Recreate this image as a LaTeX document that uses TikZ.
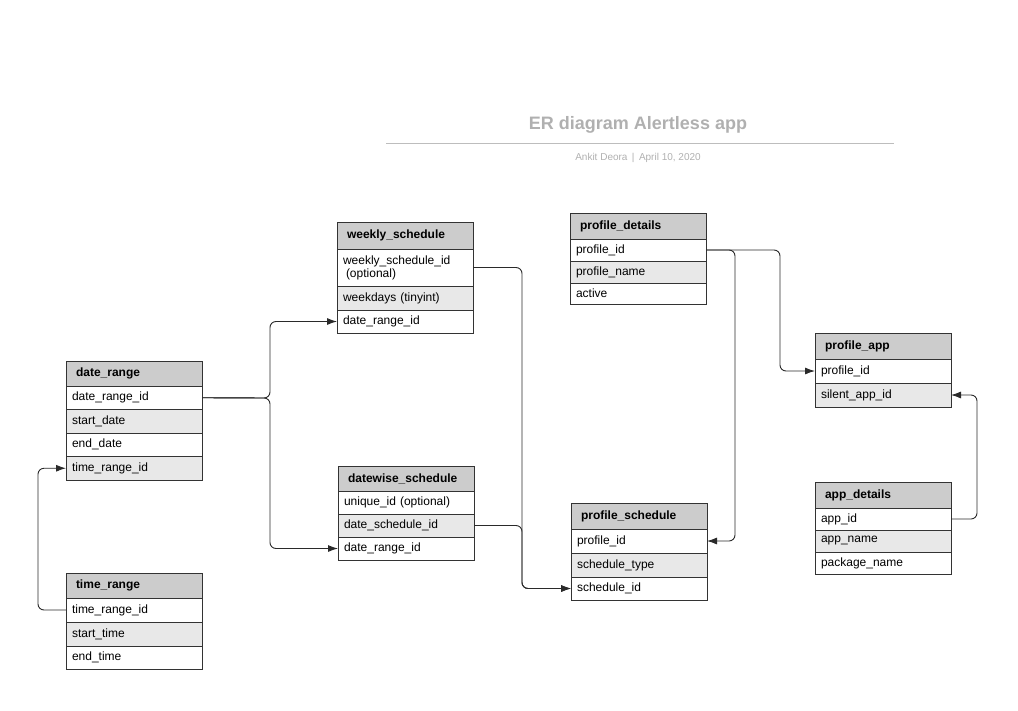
\documentclass[tikz,border=0pt]{standalone}
\usepackage{fontspec}
\setmainfont{Liberation Sans}
\usepackage{tikz}
\usetikzlibrary{arrows.meta, positioning}

\definecolor{hdrc}{HTML}{CCCCCC}
\definecolor{rowc}{HTML}{E8E8E8}
\definecolor{boxc}{HTML}{333333}
\definecolor{linec}{HTML}{2A2A2A}
\definecolor{titlec}{HTML}{B0B0B0}
\definecolor{rulec}{HTML}{BDBDBD}

\begin{document}
\begin{tikzpicture}[
		x=1pt, y=-1pt,
		tbl/.style={draw=boxc, line width=0.8pt, outer sep=0pt, align=left,
			font=\fontsize{12}{13}\selectfont},
		hdr/.style={tbl, fill=hdrc, font=\bfseries\fontsize{12}{13}\selectfont,
			inner xsep=10pt, text width=116pt, minimum height=26pt, anchor=north west},
		row/.style={tbl, fill=white, inner xsep=6pt, text width=124pt, minimum height=23pt},
		rowg/.style={row, fill=rowc},
		rel/.style={-{Latex[length=10pt,width=7pt]}, draw=linec, line width=0.9pt, rounded corners=6pt}
		]
		
		\useasboundingbox (0,0) rectangle (1018,710);
		
		% Title
		\node[font=\bfseries\fontsize{18}{20}\selectfont, text=titlec] (ttl) at (638,125)
		{ER diagram Alertless app};
		\draw[rulec, line width=0.8pt] (386,143) -- (894,143);
		\node[font=\fontsize{10}{12}\selectfont, text=titlec] (sub) at (638,158)
		{Ankit Deora \,|\, April 10, 2020};
		
		% weekly_schedule
		\node[hdr, minimum height=27pt] (ws) at (337,222) {weekly\_schedule};
		\node[row, minimum height=37pt, below=0pt of ws] (ws1)
		{weekly\_schedule\_id\\\hspace*{3pt}(optional)};
		\node[rowg, minimum height=24pt, below=0pt of ws1] (ws2) {weekdays (tinyint)};
		\node[row, below=0pt of ws2] (ws3) {date\_range\_id};
		
		% date_range
		\node[hdr, minimum height=25pt] (dr) at (66,361) {date\_range};
		\node[row, minimum height=23.5pt, below=0pt of dr] (dr1) {date\_range\_id};
		\node[rowg, minimum height=23.5pt, below=0pt of dr1] (dr2) {start\_date};
		\node[row, minimum height=23.5pt, below=0pt of dr2] (dr3) {end\_date};
		\node[rowg, minimum height=23.5pt, below=0pt of dr3] (dr4) {time\_range\_id};
		
		% time_range
		\node[hdr, minimum height=25pt] (tr) at (66,573) {time\_range};
		\node[row, minimum height=24pt, below=0pt of tr] (tr1) {time\_range\_id};
		\node[rowg, minimum height=24pt, below=0pt of tr1] (tr2) {start\_time};
		\node[row, below=0pt of tr2] (tr3) {end\_time};
		
		% datewise_schedule
		\node[hdr, minimum height=25pt] (dw) at (338,466) {datewise\_schedule};
		\node[row, below=0pt of dw] (dw1) {unique\_id (optional)};
		\node[rowg, below=0pt of dw1] (dw2) {date\_schedule\_id};
		\node[row, below=0pt of dw2] (dw3) {date\_range\_id};
		
		% profile_details
		\node[hdr] (pd) at (570,213) {profile\_details};
		\node[row, minimum height=22pt, below=0pt of pd] (pd1) {profile\_id};
		\node[rowg, minimum height=22pt, below=0pt of pd1] (pd2) {profile\_name};
		\node[row, minimum height=21pt, below=0pt of pd2] (pd3) {active};
		
		% profile_app
		\node[hdr] (pa) at (815,333) {profile\_app};
		\node[row, minimum height=24pt, below=0pt of pa] (pa1) {profile\_id};
		\node[rowg, minimum height=24pt, below=0pt of pa1] (pa2) {silent\_app\_id};
		
		% profile_schedule
		\node[hdr] (ps) at (571,503) {profile\_schedule};
		\node[row, minimum height=24pt, below=0pt of ps] (ps1) {profile\_id};
		\node[rowg, minimum height=24pt, below=0pt of ps1] (ps2) {schedule\_type};
		\node[row, below=0pt of ps2] (ps3) {schedule\_id};
		
		% app_details
		\node[hdr] (ad) at (815,482) {app\_details};
		\node[row, minimum height=22pt, below=0pt of ad] (ad1) {app\_id};
		\node[rowg, minimum height=22pt, below=0pt of ad1] (ad2) {app\_name};
		\node[row, minimum height=22pt, below=0pt of ad2] (ad3) {package\_name};
		
		% Junction points
		\coordinate (jdr) at (270,398);
		\coordinate (jps) at (522,560);
		\coordinate (jpd) at (735,400);
		\coordinate (jpa) at (780,300);
		\coordinate (jad) at (977,450);
		\coordinate (jtr) at (38,540);
		
		% Relations
		\draw[rel] (dr1.east) -- (jdr) |- (ws3.west);
		\draw[rel] (dr1.east) -- (jdr) |- (dw3.west);
		\draw[rel] (ws1.east) -| (jps) |- (ps3.west);
		\draw[rel] (dw2.east) -| (jps) |- (ps3.west);
		\draw[rel] (pd1.east) -| (jpd) |- (ps1.east);
		\draw[rel] (pd1.east) -| (jpa) |- (pa1.west);
		\draw[rel] (ad1.east) -| (jad) |- (pa2.east);
		\draw[rel] (tr1.west) -| (jtr) |- (dr4.west);
		
	\end{tikzpicture}
\end{document}
